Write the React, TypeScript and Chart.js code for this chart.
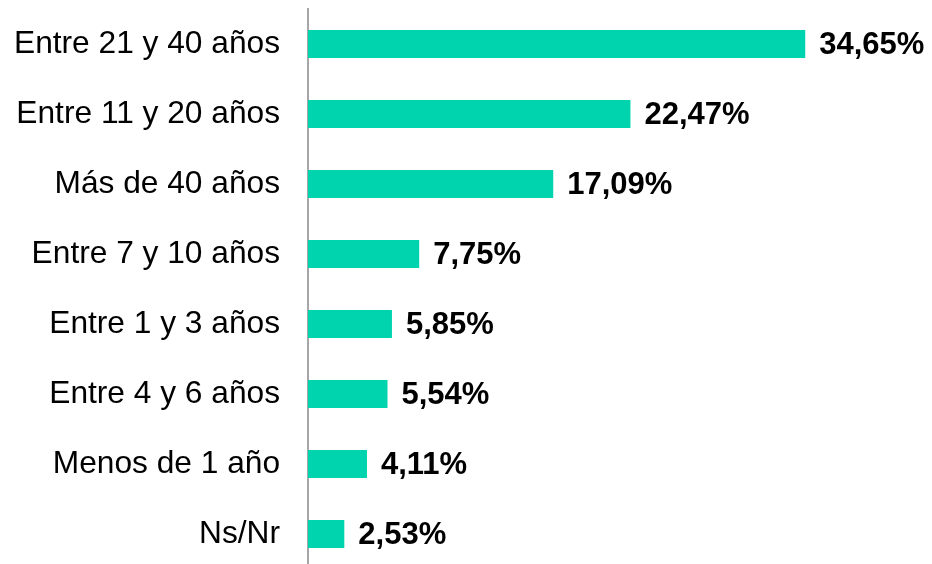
import React, { useEffect, useRef } from "react";
import { Chart, registerables } from "chart.js";

Chart.register(...registerables);

const categories = [
  "Entre 21 y 40 años",
  "Entre 11 y 20 años",
  "Más de 40 años",
  "Entre 7 y 10 años",
  "Entre 1 y 3 años",
  "Entre 4 y 6 años",
  "Menos de 1 año",
  "Ns/Nr",
];
const values = [34.65, 22.47, 17.09, 7.75, 5.85, 5.54, 4.11, 2.53];
const valueLabels = ["34,65%", "22,47%", "17,09%", "7,75%", "5,85%", "5,54%", "4,11%", "2,53%"];

const FONT = "'Liberation Sans', Arial, sans-serif";

const valueLabelPlugin = {
  id: "valueLabels",
  afterDatasetsDraw(chart: any) {
    const ctx = chart.ctx;
    const meta = chart.getDatasetMeta(0);
    ctx.save();
    ctx.font = `bold 31px ${FONT}`;
    ctx.fillStyle = "#000000";
    ctx.textAlign = "left";
    ctx.textBaseline = "middle";
    meta.data.forEach((bar: any, i: number) => {
      ctx.fillText(valueLabels[i], bar.x + 14, bar.y + 1);
    });
    ctx.restore();
  },
};

export default function App() {
  const ref = useRef<HTMLCanvasElement | null>(null);
  useEffect(() => {
    if (!ref.current) return;
    const chart = new Chart(ref.current, {
      type: "bar",
      data: {
        labels: categories,
        datasets: [
          {
            data: values,
            backgroundColor: "#00D4AE",
            borderWidth: 0,
            categoryPercentage: 1,
            barPercentage: 0.4,
          },
        ],
      },
      options: {
        indexAxis: "y",
        responsive: false,
        animation: false,
        layout: { padding: { top: 9, bottom: 11, left: 0, right: 50 } },
        plugins: { legend: { display: false }, tooltip: { enabled: false } },
        scales: {
          x: { display: false, min: 0, max: 40 },
          y: {
            z: 1,
            grid: { display: false, drawTicks: false },
            border: { display: true, color: "#A6A6A6", width: 2 },
            ticks: {
              padding: 28,
              color: "#000000",
              font: { family: FONT, size: 31.7 },
            },
            afterFit(scale: any) {
              scale.width = 308;
              scale.paddingTop = 0;
              scale.paddingBottom = 0;
            },
          },
        },
      },
      plugins: [valueLabelPlugin],
    });
    return () => chart.destroy();
  }, []);
  return (
    <div style={{ position: "fixed", left: 0, top: 0, width: 932, height: 564, overflow: "hidden", background: "#fff" }}>
      <canvas ref={ref} width={932} height={580} />
    </div>
  );
}
